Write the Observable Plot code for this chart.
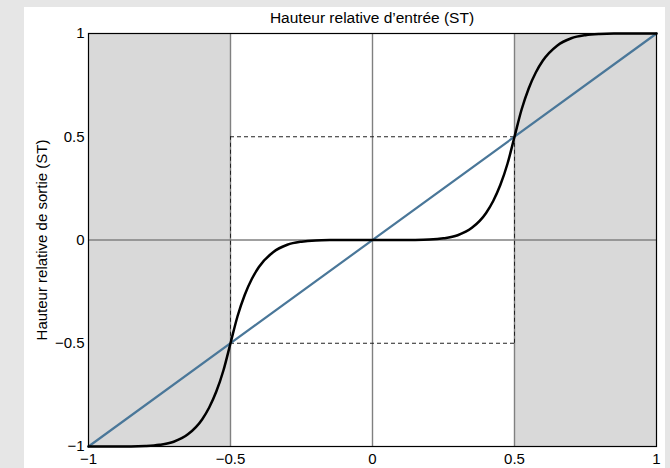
<!DOCTYPE html>
<html>
<head>
<meta charset="utf-8">
<script src="https://cdn.jsdelivr.net/npm/d3@7"></script>
<script src="https://cdn.jsdelivr.net/npm/@observablehq/plot@0.6"></script>
<style>
  html, body { margin: 0; padding: 0; background: #e6e6e6; }
  #wrap { position: relative; width: 670px; height: 468px; overflow: hidden; }
  #panel { position: absolute; left: 24px; top: 7px; width: 641px; height: 461px; background: #ffffff; }
  #title { position: absolute; left: 88px; width: 568px; top: 9px; text-align: center; line-height: 18px;
           font-family: "Liberation Sans", Arial, sans-serif; font-size: 15.5px; color: #000; }
  #chart { position: absolute; left: 0; top: 0; }
</style>
</head>
<body>
<div id="wrap">
  <div id="panel"></div>
  <div id="title">Hauteur relative d’entrée (ST)</div>
  <div id="chart"></div>
</div>
<script>
// ---- data ----
const xTicks = [-1, -0.5, 0, 0.5, 1];
const yTicks = [-1, -0.5, 0, 0.5, 1];
const shadeStart = [-1, 0.5];
const shadeEnd = [-0.5, 1];
const guideX = [-0.5, 0, 0.5];
const guideY = [0];
const boxLow = -0.5;
const boxHigh = 0.5;
const identityX = [-1, 1];
const identityY = [-1, 1];
const curveX = [-1, -0.9, -0.85, -0.8, -0.75, -0.7, -0.65, -0.6, -0.575, -0.55, -0.525, -0.5,
                -0.475, -0.45, -0.425, -0.4, -0.35, -0.3, -0.25, -0.2, -0.15, -0.1, 0,
                0.1, 0.15, 0.2, 0.25, 0.3, 0.35, 0.4, 0.425, 0.45, 0.475, 0.5,
                0.525, 0.55, 0.575, 0.6, 0.65, 0.7, 0.75, 0.8, 0.85, 0.9, 1];
const curveY = [-1, -1, -1, -0.998, -0.992, -0.977, -0.941, -0.869, -0.811, -0.734, -0.632, -0.5,
                -0.368, -0.266, -0.189, -0.131, -0.059, -0.023, -0.008, -0.002, -0.0004, 0, 0,
                0, 0.0004, 0.002, 0.008, 0.023, 0.059, 0.131, 0.189, 0.266, 0.368, 0.5,
                0.632, 0.734, 0.811, 0.869, 0.941, 0.977, 0.992, 0.998, 1, 1, 1];
const yLabel = "Hauteur relative de sortie (ST)";

// ---- tables ----
const shades = shadeStart.map((s, i) => ({x1: s, x2: shadeEnd[i]}));
const curve = curveX.map((x, i) => ({x, y: curveY[i]}));
const identity = identityX.map((x, i) => ({x, y: identityY[i]}));
const fmt = d => d < 0 ? "\u2212" + Math.abs(d) : String(d);

const chart = Plot.plot({
  width: 670,
  height: 468,
  marginLeft: 88,
  marginRight: 14,
  marginTop: 33,
  marginBottom: 22,
  style: {fontFamily: "'Liberation Sans', Arial, sans-serif", fontSize: "15px", background: "transparent", color: "#000"},
  x: {domain: [-1, 1], ticks: xTicks, tickFormat: fmt, tickSize: 0, tickPadding: 7, label: null},
  y: {domain: [-1, 1], ticks: yTicks, tickFormat: fmt, tickSize: 0, tickPadding: 4,
      label: yLabel, labelAnchor: "center", labelArrow: "none", labelOffset: 52},
  marks: [
    Plot.rectX(shades, {x1: "x1", x2: "x2", y1: -1, y2: 1, fill: "#d9d9d9"}),
    Plot.ruleX(guideX, {stroke: "#808080", strokeWidth: 1.4}),
    Plot.ruleY(guideY, {stroke: "#808080", strokeWidth: 1.4}),
    Plot.ruleX([boxLow, boxHigh], {y1: boxLow, y2: boxHigh, stroke: "#222", strokeWidth: 1, strokeDasharray: "4,3"}),
    Plot.ruleY([boxLow, boxHigh], {x1: boxLow, x2: boxHigh, stroke: "#222", strokeWidth: 1, strokeDasharray: "4,3"}),
    Plot.line(identity, {x: "x", y: "y", stroke: "#4a7799", strokeWidth: 2.2}),
    Plot.line(curve, {x: "x", y: "y", stroke: "#000", strokeWidth: 2.5, curve: "monotone-x"}),
    Plot.frame({stroke: "#000", strokeWidth: 1.2})
  ]
});
document.getElementById("chart").appendChild(chart);
</script>
</body>
</html>
